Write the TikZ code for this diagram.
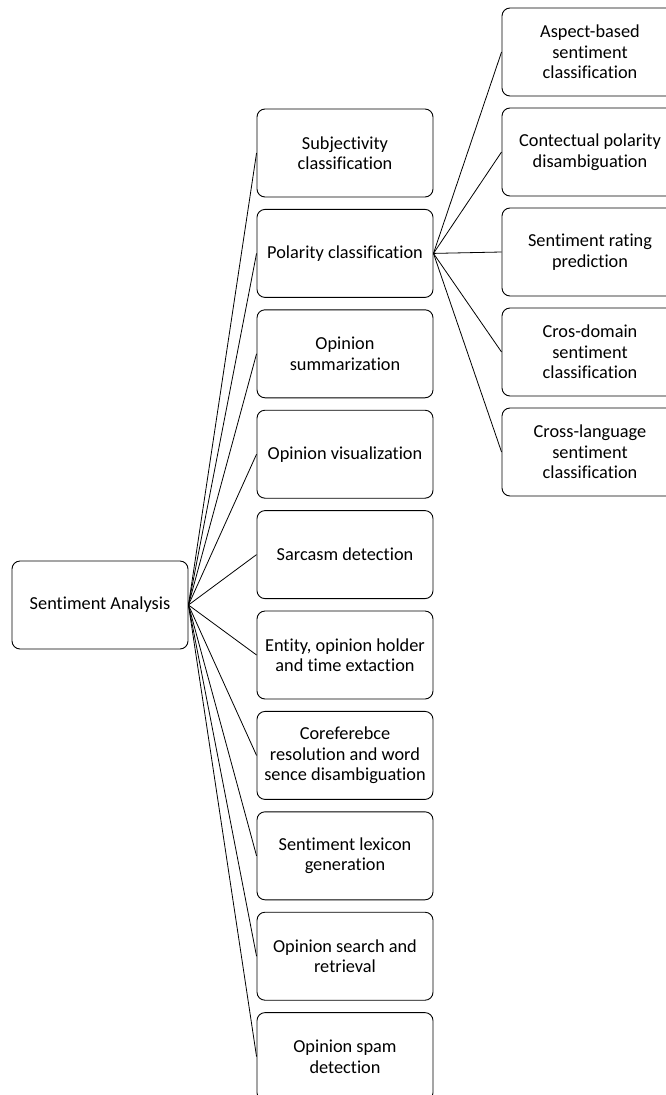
\documentclass[tikz,border=0pt]{standalone}
\usepackage{fontspec}
\setmainfont{Carlito}[Ligatures={NoCommon}]
\begin{document}
\begin{tikzpicture}[x=1pt,y=-1pt,
  box/.style={draw=black, line width=0.9pt, rounded corners=8pt, minimum width=176pt, minimum height=88pt, align=center, font=\fontsize{18.3}{20.5}\selectfont, inner sep=0pt},
  link/.style={draw=black, line width=0.8pt}]
\path[use as bounding box] (0,0) rectangle (666,1095);
\clip (0,0) rectangle (666,1095);
\node[box, minimum width=176pt] (root) at (100,605) {Sentiment Analysis};
\node[box] (m1) at (345,153.0) {Subjectivity\\classification};
\node[box] (m2) at (345,253.4) {Polarity classification};
\node[box] (m3) at (345,353.8) {Opinion\\summarization};
\node[box] (m4) at (345,454.2) {Opinion visualization};
\node[box] (m5) at (345,554.6) {Sarcasm detection};
\node[box] (m6) at (345,655.0) {Entity, opinion holder\\and time extaction};
\node[box] (m7) at (345,755.4) {Coreferebce\\resolution and word\\sence disambiguation};
\node[box] (m8) at (345,855.8) {Sentiment lexicon\\generation};
\node[box] (m9) at (345,956.2) {Opinion search and\\retrieval};
\node[box] (m10) at (345,1056.6) {Opinion spam\\detection};
\node[box] (r1) at (590,52) {Aspect-based\\sentiment\\classification};
\node[box] (r2) at (590,152) {Contectual polarity\\disambiguation};
\node[box] (r3) at (590,252) {Sentiment rating\\prediction};
\node[box] (r4) at (590,352) {Cros-domain\\sentiment\\classification};
\node[box] (r5) at (590,452) {Cross-language\\sentiment\\classification};
\foreach \i in {1,...,10} { \draw[link] (root.east) -- (m\i.west); }
\foreach \i in {1,...,5} { \draw[link] (m2.east) -- (r\i.west); }
\end{tikzpicture}
\end{document}
